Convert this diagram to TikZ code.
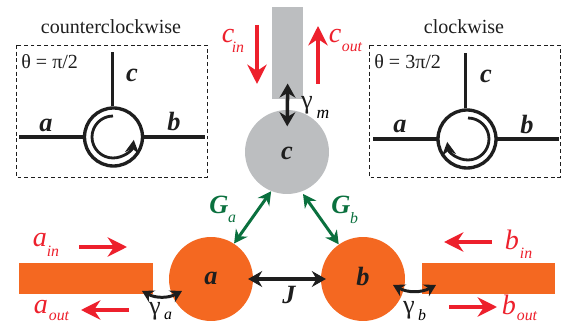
\documentclass[tikz,border=0pt]{standalone}
\usepackage{fontspec}
\setmainfont{Liberation Serif}
\usetikzlibrary{arrows.meta}
\definecolor{PortRed}{RGB}{237,32,44}
\definecolor{CavOrange}{RGB}{244,104,33}
\definecolor{CavGray}{RGB}{188,190,192}
\definecolor{CoupGreen}{RGB}{10,112,62}
\definecolor{InkBlack}{RGB}{30,30,30}
\tikzset{
	cav/.style={circle,inner sep=0pt,minimum size=1.68cm},
	ring/.style={circle,draw=InkBlack,line width=1.9pt,inner sep=0pt,minimum size=1.16cm},
	wire/.style={draw=InkBlack,line width=1.9pt},
	spin/.style={draw=InkBlack,line width=1.6pt,-{Stealth[length=7.5pt,width=8pt]}},
	redarrow/.style={draw=PortRed,line width=2.3pt,-{Stealth[length=11pt,width=11pt]}},
	blackarrow/.style={draw=InkBlack,line width=2pt,{Stealth[length=8pt,width=9pt]}-{Stealth[length=8pt,width=9pt]}},
	greenarrow/.style={draw=CoupGreen,line width=1.7pt,{Stealth[length=7.5pt,width=8pt]}-{Stealth[length=7.5pt,width=8pt]}},
	swing/.style={draw=InkBlack,line width=1.7pt,{Stealth[length=6.5pt,width=7.5pt]}-{Stealth[length=6.5pt,width=7.5pt]}},
	lab/.style={inner sep=0pt,font=\fontsize{11.4}{13}\selectfont,text=InkBlack},
	gam/.style={inner sep=0pt,font=\fontsize{15}{17}\selectfont,text=InkBlack},
	boldlab/.style={inner sep=0pt,font=\fontsize{15}{17}\selectfont\bfseries\itshape,text=InkBlack},
	sub/.style={inner sep=0pt,font=\fontsize{9}{10}\selectfont\itshape},
	port/.style={inner sep=0pt,font=\fontsize{16}{18}\selectfont\itshape,text=PortRed},
	portsub/.style={sub,text=PortRed},
}
\begin{document}
\begin{tikzpicture}[x=0.02cm,y=-0.02cm]
	\useasboundingbox (0,0) rectangle (564,323);
	% waveguides and cavities
	\fill[CavGray] (272,7) rectangle (303,99);
	\node[inner sep=0pt] (guideC) at (287.5,99) {};
	\fill[CavOrange] (19,263) rectangle (153,294);
	\fill[CavOrange] (422,263) rectangle (555,294);
	\node[cav,fill=CavGray] (c) at (287,152) {};
	\node[cav,fill=CavOrange] (a) at (211,279) {};
	\node[cav,fill=CavOrange] (b) at (363,279) {};
	\node[boldlab] (cName) at (287,153) {c};
	\node[boldlab] (aName) at (211,278) {a};
	\node[boldlab] (bName) at (363,277) {b};
	% couplings
	\draw[greenarrow] (a.57) -- (c.248);
	\draw[greenarrow,shorten >=1.5pt] (b.125) -- (c.290);
	\draw[blackarrow,shorten <=-3pt,shorten >=-3pt] (a) -- (b);
	\draw[blackarrow,shorten <=-9.5pt,shorten >=-9.5pt] (guideC) -- (c);
	\node[boldlab] (jName) at (289,295) {J};
	\node[boldlab,text=CoupGreen] (gA) at (219,205) {G};
	\node[sub,text=CoupGreen] (gAsub) at (232,219) {a};
	\node[boldlab,text=CoupGreen] (gB) at (341,205) {G};
	\node[sub,text=CoupGreen] (gBsub) at (354,218) {b};
	% swings to the guides
	\coordinate (swingA1) at (142,291);
	\coordinate (swingA2) at (182,291);
	\coordinate (swingB1) at (393,285);
	\coordinate (swingB2) at (436,285);
	\draw[swing] (swingA1) to[bend right=28] (swingA2);
	\draw[swing] (swingB1) to[bend right=28] (swingB2);
	\node[gam] (gamA) at (155,311) {γ};
	\node[sub] (gamAsub) at (168,316) {a};
	\node[gam] (gamB) at (409,310) {γ};
	\node[sub] (gamBsub) at (422,315) {b};
	\node[gam] (gamM) at (307,105) {γ};
	\node[sub,font=\fontsize{10}{11}\selectfont\itshape] (gamMsub) at (323,114) {m};
	% port arrows
	\coordinate (cInT) at (257,25);
	\coordinate (cInH) at (257,84);
	\coordinate (cOutT) at (318,84);
	\coordinate (cOutH) at (318,26);
	\coordinate (aInT) at (79,247);
	\coordinate (aInH) at (127,247);
	\coordinate (aOutT) at (129,310);
	\coordinate (aOutH) at (81,310);
	\coordinate (bInT) at (492,242);
	\coordinate (bInH) at (444,242);
	\coordinate (bOutT) at (449,307);
	\coordinate (bOutH) at (497,307);
	\foreach \p/\q in {cInT/cInH,cOutT/cOutH,aInT/aInH,aOutT/aOutH,bInT/bInH,bOutT/bOutH}
		\draw[redarrow] (\p) -- (\q);
	\node[port] (cIn) at (228,36) {c};
	\node[portsub] (cInS) at (238,47) {in};
	\node[port] (cOut) at (335,36) {c};
	\node[portsub] (cOutS) at (352,47) {out};
	\node[port] (aIn) at (40,240) {a};
	\node[portsub] (aInS) at (53,251) {in};
	\node[port] (aOut) at (41,307) {a};
	\node[portsub] (aOutS) at (59,316) {out};
	\node[port] (bIn) at (512,240) {b};
	\node[portsub] (bInS) at (526,253) {in};
	\node[port] (bOut) at (509,305) {b};
	\node[portsub] (bOutS) at (527,316) {out};
	% counterclockwise inset
	\node[lab] (ccwName) at (111,27) {counterclockwise};
	\draw[InkBlack,line width=0.5pt,dash pattern=on 2.2pt off 1.6pt] (16,45) rectangle (207,177);
	\node[lab,anchor=west] (ccwAngle) at (21,62) {θ = π/2};
	\node[ring] (ringL) at (113.5,137) {};
	\coordinate (ringLa) at (19,137);
	\coordinate (ringLb) at (205,137);
	\coordinate (ringLc) at (112.5,52);
	\draw[wire] (ringL) ++(-30,0) -- (ringLa);
	\draw[wire] (ringL) ++(30,0) -- (ringLb);
	\draw[wire] (ringL.north -| ringLc) -- (ringLc);
	\draw[spin] (113,116) arc[start angle=270,end angle=8,radius=21];
	\node[boldlab] (ringLaName) at (46,125) {a};
	\node[boldlab] (ringLbName) at (174,122) {b};
	\node[boldlab] (ringLcName) at (132,75) {c};
	% clockwise inset
	\node[lab] (cwName) at (464,27) {clockwise};
	\draw[InkBlack,line width=0.5pt,dash pattern=on 2.2pt off 1.6pt] (369,45) rectangle (560,177);
	\node[lab,anchor=west] (cwAngle) at (374,62) {θ = 3π/2};
	\node[ring] (ringR) at (467,139) {};
	\coordinate (ringRa) at (373,139);
	\coordinate (ringRb) at (559,139);
	\coordinate (ringRc) at (465.5,53);
	\draw[wire] (ringR) ++(-30,0) -- (ringRa);
	\draw[wire] (ringR) ++(30,0) -- (ringRb);
	\draw[wire] (ringR.north -| ringRc) -- (ringRc);
	\draw[spin] (468,118) arc[start angle=270,end angle=532,radius=21];
	\node[boldlab] (ringRaName) at (400,126) {a};
	\node[boldlab] (ringRbName) at (527,125) {b};
	\node[boldlab] (ringRcName) at (486,76) {c};
\end{tikzpicture}
\end{document}
